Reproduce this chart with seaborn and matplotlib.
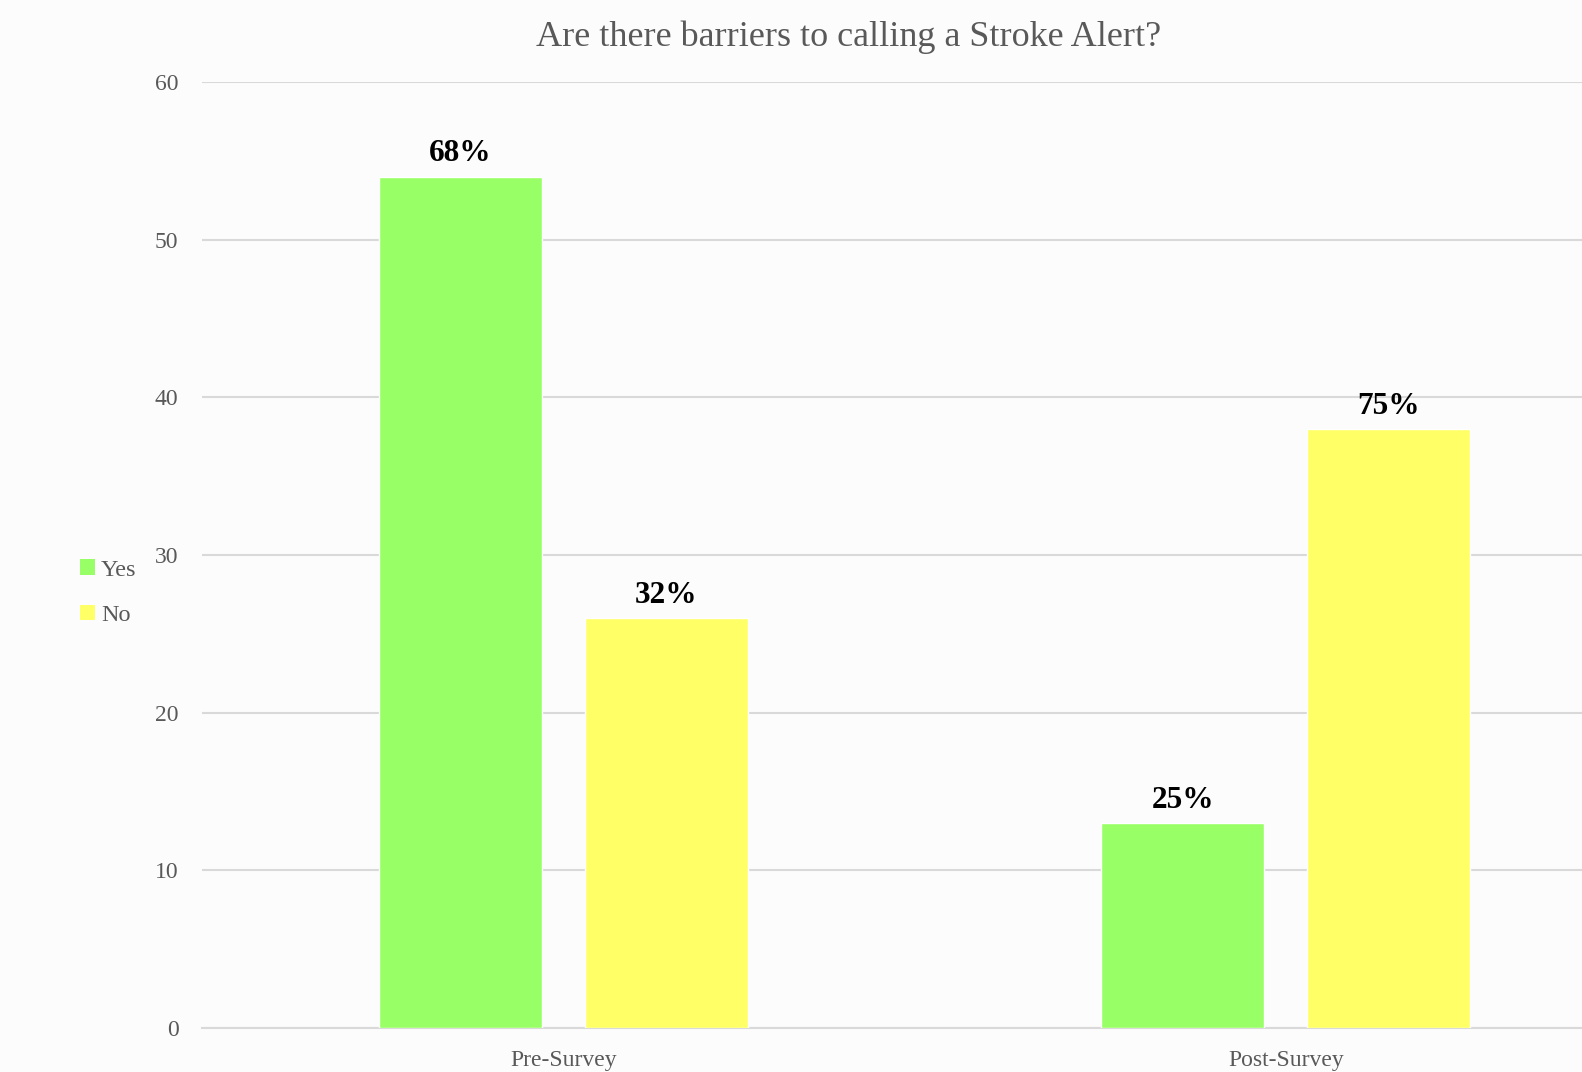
import pandas as pd
import matplotlib.pyplot as plt
import seaborn as sns
from matplotlib.patches import Patch

# values
surveys = ["Pre-Survey", "Post-Survey"]
answers = ["Yes", "No"]
yes_counts = [54, 13]
no_counts = [26, 38]
pct_labels = {"Yes": ["68%", "25%"], "No": ["32%", "75%"]}
colors = {"Yes": "#99FF66", "No": "#FFFF66"}

df = pd.DataFrame({
    "Survey": surveys * 2,
    "Answer": ["Yes"] * 2 + ["No"] * 2,
    "Count": yes_counts + no_counts,
})

sns.set_style("white")
plt.rcParams["font.family"] = ["Liberation Serif", "DejaVu Serif"]
grey = "#595959"

fig = plt.figure(figsize=(15.82, 10.72), dpi=100, facecolor="#FCFCFC")
ax = fig.add_axes([0.1277, 0.041, 0.8723, 0.8825])
ax.set_facecolor("#FCFCFC")

sns.barplot(data=df, x="Survey", y="Count", hue="Answer", hue_order=answers,
            palette=colors, width=0.57, gap=0.21, saturation=1, ax=ax,
            legend=False, zorder=3)

# percent labels over bars
for cont, ans in zip(ax.containers, answers):
    ax.bar_label(cont, labels=pct_labels[ans], padding=6, fontsize=22.5,
                 fontweight="bold", color="black")

ax.set_ylim(0, 60)
ax.set_yticks(range(0, 61, 10))
ax.set_xlim(-0.5, 1.41)
ax.grid(axis="y", color="#D9D9D9", linewidth=1.5, zorder=0)
for s in ["top", "right", "left"]:
    ax.spines[s].set_visible(False)
ax.spines["bottom"].set_color("#D9D9D9")
ax.spines["bottom"].set_linewidth(1.5)
ax.tick_params(axis="y", length=0, pad=17, labelsize=17, labelcolor=grey)
ax.tick_params(axis="x", length=0, pad=16, labelsize=17, labelcolor=grey)
ax.set_xlabel("")
ax.set_ylabel("")

fig.text(0.5365, 0.965, "Are there barriers to calling a Stroke Alert?",
         ha="center", va="center", fontsize=26, color=grey)

handles = [Patch(facecolor=colors[a], edgecolor="none") for a in answers]
fig.legend(handles, answers, loc="center left", bbox_to_anchor=(0.037, 0.447),
           frameon=False, fontsize=17.5, labelcolor=grey, handlelength=0.6,
           handleheight=0.6, handletextpad=0.25, labelspacing=1.0)

fig.savefig("out.png", dpi=100, facecolor=fig.get_facecolor())
